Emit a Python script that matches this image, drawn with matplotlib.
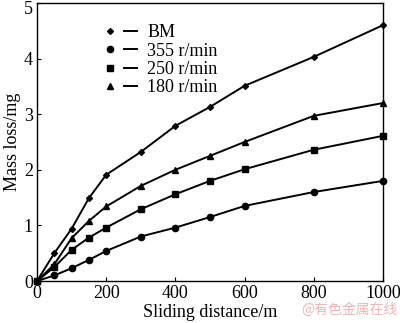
import matplotlib
matplotlib.use('Agg')
import matplotlib.pyplot as plt
from matplotlib.lines import Line2D
from matplotlib.legend_handler import HandlerTuple
from matplotlib.transforms import ScaledTranslation

plt.rcParams['font.family'] = 'Liberation Serif'
plt.rcParams['font.size'] = 11

distance = [0, 50, 100, 150, 200, 300, 400, 500, 600, 800, 1000]
bm = [0, 0.50, 0.94, 1.49, 1.91, 2.32, 2.79, 3.13, 3.51, 4.03, 4.60]
r355 = [0, 0.10, 0.23, 0.38, 0.54, 0.80, 0.96, 1.15, 1.35, 1.60, 1.80]
r250 = [0, 0.25, 0.56, 0.78, 0.96, 1.29, 1.56, 1.80, 2.01, 2.36, 2.61]
r180 = [0, 0.30, 0.77, 1.08, 1.34, 1.71, 2.00, 2.25, 2.50, 2.97, 3.20]

series = [
    ('BM', bm, 'D', 3.0),
    ('355 r/min', r355, 'o', 4.5),
    ('250 r/min', r250, 's', 4.5),
    ('180 r/min', r180, '^', 4.5),
]

fig = plt.figure(figsize=(4.0, 3.23), dpi=100)
ax = fig.add_axes([0.0925, 0.130, 0.865, 0.861])

handles = []
for label, vals, marker, ms in series:
    ax.plot(distance, vals, color='black', lw=1.4, marker=marker, ms=ms,
            clip_on=False, zorder=3)
    handles.append((Line2D([], [], ls='none', marker=marker, ms=ms, color='black'),
                    Line2D([], [], color='black', lw=1.4)))

ax.set_xlim(0, 1000)
ax.set_ylim(0, 5)
ax.set_xticks([0, 200, 400, 600, 800, 1000])
ax.set_yticks([0, 1, 2, 3, 4, 5])
ax.tick_params(direction='in', length=3, width=0.8, labelsize=13, pad=3)
for s in ax.spines.values():
    s.set_linewidth(1.0)

# nudge the top y label down so it stays inside the figure
fig.canvas.draw()
top = ax.get_yticklabels()[-1]
top.set_transform(top.get_transform() + ScaledTranslation(0, -3 / 72, fig.dpi_scale_trans))

ax.set_xlabel('Sliding distance/m', fontsize=13, labelpad=1)
ax.set_ylabel('Mass loss/mg', fontsize=13, labelpad=2)

ax.legend(handles, [s[0] for s in series],
          handler_map={tuple: HandlerTuple(ndivide=None, pad=0.4)},
          loc='upper left', bbox_to_anchor=(0.168, 0.955), frameon=False,
          fontsize=13, handlelength=1.8, handletextpad=0.6, labelspacing=0.07,
          borderpad=0)

fig.text(0.995, 0.02, '@有色金属在线', ha='right', va='bottom', fontsize=10,
         color='#f0b4b4', family=['Noto Sans CJK SC', 'DejaVu Sans'])

fig.savefig('out.png', dpi=100)
